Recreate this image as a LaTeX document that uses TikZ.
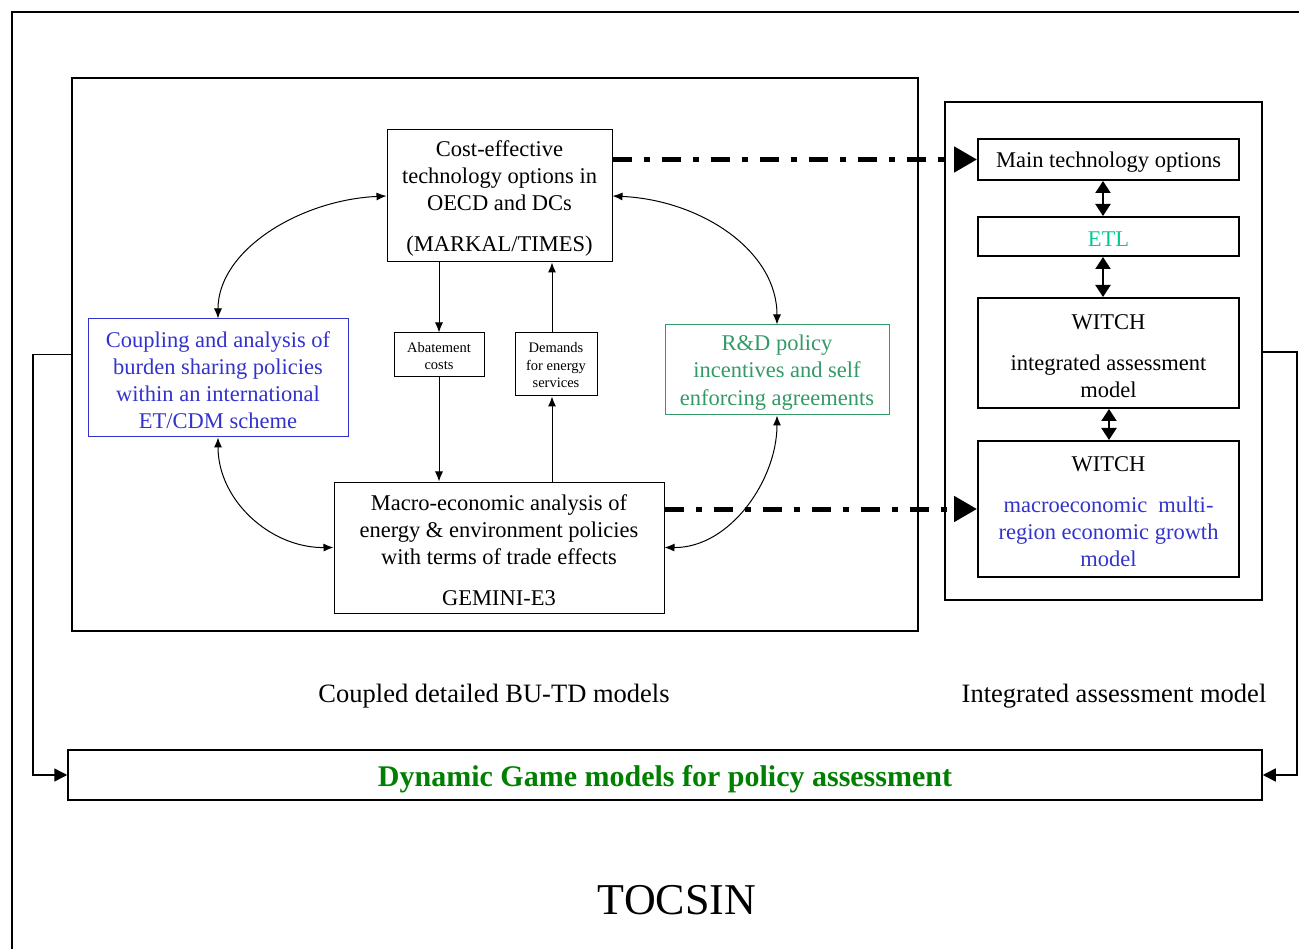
\documentclass[tikz,border=0pt]{standalone}
\usepackage{fontspec}
\setmainfont{Liberation Serif}
\usetikzlibrary{arrows.meta}
\definecolor{tblue}{RGB}{51,51,204}
\definecolor{tgreen}{RGB}{51,153,102}
\definecolor{tteal}{RGB}{0,200,150}
\definecolor{dgreen}{RGB}{0,128,0}
\newcommand{\sx}{\rule{0pt}{20.5pt}}
\begin{document}
\begin{tikzpicture}[x=1pt,y=-1pt,
 box/.style={draw, line width=1pt, inner sep=0pt, align=center, font=\fontsize{22.5}{27}\selectfont},
 rbox/.style={box, line width=2pt},
 sbox/.style={draw, line width=1pt, inner sep=0pt, align=center, font=\fontsize{14.5}{17.5}\selectfont},
 thinarrow/.style={line width=1pt, -{Latex[length=10pt,width=8pt]}},
 curvearrow/.style={line width=1pt, {Latex[length=10pt,width=8pt]}-{Latex[length=10pt,width=8pt]}},
 dda/.style={line width=5pt, dash pattern=on 19pt off 12pt on 6pt off 12pt, -{Triangle[length=23pt,width=25pt]}},
 vda/.style={line width=2pt, {Triangle[length=12pt,width=15pt]}-{Triangle[length=12pt,width=15pt]}},
 fb/.style={line width=1.5pt, -{Triangle[length=13pt,width=13pt]}},
 lbl/.style={font=\fontsize{26.5}{30}\selectfont, inner sep=0pt},
]
\useasboundingbox (0,0) rectangle (1299,949);
% outer frame
\draw[line width=2pt] (1330,12) -- (12,12) -- (12,980);
% big boxes
\node[draw, line width=2.8pt, minimum width=846pt, minimum height=553pt, inner sep=0pt] (lbig) at (495,354.5) {};
\node[draw, line width=2pt, minimum width=317pt, minimum height=498pt, inner sep=0pt] (rbig) at (1103.5,351) {};
% left inner boxes
\node[box, minimum width=225pt, minimum height=132pt] (top) at (499.5,196) {\sx Cost-effective\\technology options in\\OECD and DCs\\[14pt](MARKAL/TIMES)};
\node[box, draw=tblue, text=tblue, minimum width=260pt, minimum height=118pt] (coup) at (218,378) {\sx Coupling and analysis of\\burden sharing policies\\within an international\\ET/CDM scheme};
\node[sbox, minimum width=90pt, minimum height=44pt] (abate) at (439,355) {\rule{0pt}{12pt}Abatement\\costs};
\node[sbox, minimum width=82pt, minimum height=63pt] (dem) at (556,364.5) {\rule{0pt}{12pt}Demands\\for energy\\services};
\node[box, draw=tgreen, text=tgreen, minimum width=224pt, minimum height=90pt] (rd) at (777,370) {\sx R\&D policy\\[0.5pt]incentives and self\\[0.5pt]enforcing agreements};
\node[box, minimum width=330pt, minimum height=131pt] (gem) at (499,547.5) {\sx Macro-economic analysis of\\energy \& environment policies\\with terms of trade effects\\[14pt]GEMINI-E3};
% right inner boxes
\node[rbox, minimum width=261pt, minimum height=41pt] (main) at (1108.5,159.5) {\sx Main technology options};
\node[rbox, text=tteal, minimum width=261pt, minimum height=39pt] (etl) at (1108.5,236.5) {\sx ETL};
\node[rbox, minimum width=261pt, minimum height=110pt] (w1) at (1108.5,353) {\sx WITCH\\[14pt]integrated assessment\\model};
\node[rbox, minimum width=261pt, minimum height=136pt] (w2) at (1108.5,509) {\sx WITCH\\[14pt]\textcolor{tblue}{macroeconomic\ \ multi-}\\\textcolor{tblue}{region economic growth}\\\textcolor{tblue}{model}};
% bottom box and labels
\node[draw, line width=1.5pt, minimum width=1194pt, minimum height=50pt, inner sep=0pt, font=\bfseries\fontsize{30}{34}\selectfont, text=dgreen, text height=23.5pt, text depth=0pt] (dyn) at (665,775) {Dynamic Game models for policy assessment};
\node[lbl] (lab1) at (494,696) {Coupled detailed BU-TD models};
\node[lbl] (lab2) at (1114,696) {Integrated assessment model};
\node[font=\fontsize{44}{50}\selectfont, inner sep=0pt] (tocsin) at (677,900) {TOCSIN};
% vertical connectors
\coordinate (dx) at (552,0);
\draw[thinarrow] (top.south -| abate) -- (abate.north);
\draw[thinarrow] (abate.south) -- (abate.south |- gem.north);
\draw[thinarrow] (gem.north -| dx) -- (dem.south -| dx);
\draw[thinarrow] (dem.north -| dx) -- (top.south -| dx);
% curved connectors
\draw[curvearrow] (top.west) .. controls (300,200) and (218,250) .. (coup.north);
\draw[curvearrow] (coup.south) .. controls (218,500) and (270,548) .. (gem.west);
\draw[curvearrow] (top.east) .. controls (700,200) and (777,250) .. (rd.north);
\draw[curvearrow] (rd.south) .. controls (777,480) and (730,548) .. (gem.east);
% dash-dot arrows
\draw[dda] (top.east |- main.west) -- (main.west);
\draw[dda] (gem.east |- w2.west) -- (w2.west);
% right column double arrows
\coordinate (vx) at (1103,0);
\coordinate (vy) at (1109,0);
\draw[vda] (main.south -| vx) -- (etl.north -| vx);
\draw[vda] (etl.south -| vx) -- (w1.north -| vx);
\draw[vda] (w1.south -| vy) -- (w2.north -| vy);
% feedback lines
\coordinate (fl) at (33,354.5);
\coordinate (fr) at (1297,352);
\draw[fb] (lbig.west) -- (fl) -- (fl |- dyn.west) -- (dyn.west);
\draw[fb] (rbig.east |- fr) -- (fr) -- (fr |- dyn.east) -- (dyn.east);
\end{tikzpicture}
\end{document}
